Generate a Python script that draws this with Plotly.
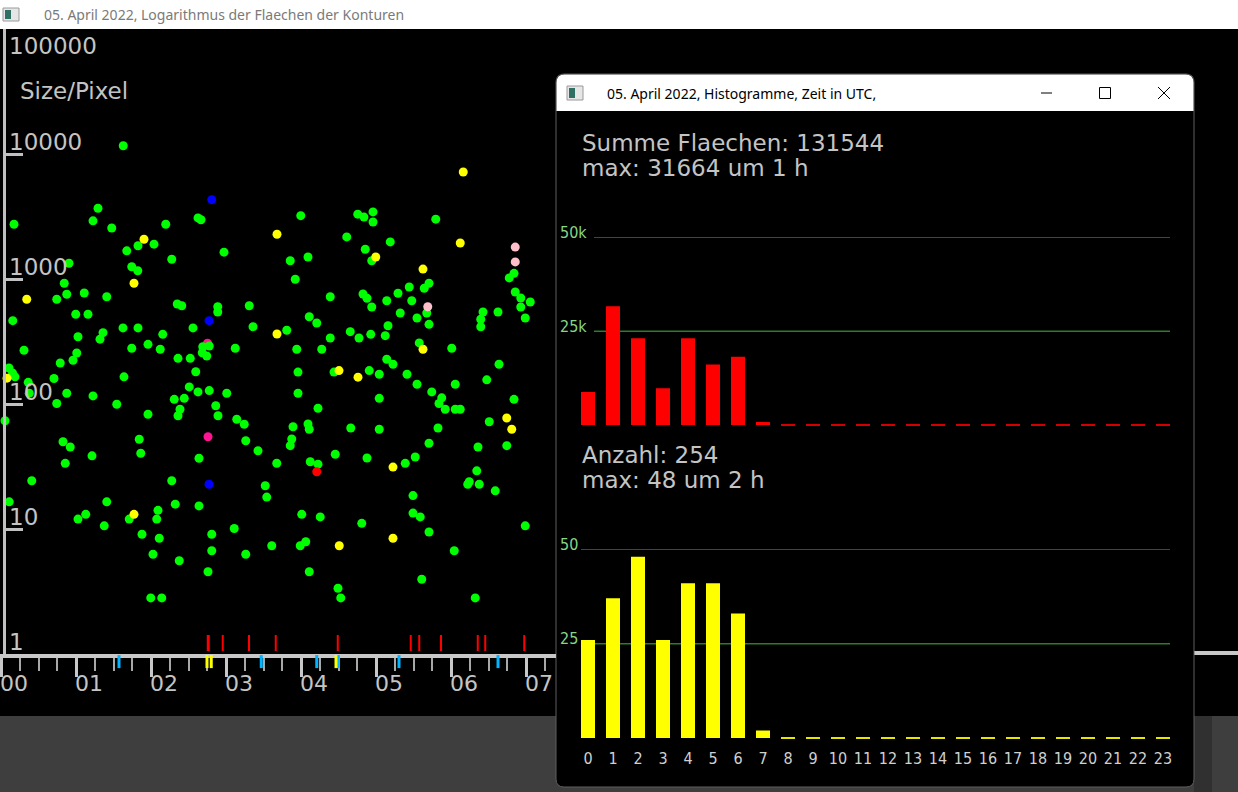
#!/usr/bin/env python3
# -*- coding: utf-8 -*-
"""
Konturen vom 05. April 2022: Flaechen (log) ueber der Uhrzeit
und die Stunden-Histogramme daneben, als Plotly-Nachbau.
"""
import math
import plotly.graph_objects as go

W, H = 1238, 792

# =============================================================================
# DATEN: Uhrzeit in Minuten nach 0 Uhr UTC, Flaeche in Pixel
# =============================================================================
gruen_min = [
    97.8, 77.6, 10.4, 73.6, 88.6, 131.8, 157.6, 160, 122.4, 109.6, 100.6, 178.4,
    136.6, 54.4, 104.6, 109.4, 50.6, 52.6, 44.6, 66.6, 84.6, 141, 144.6, 173.4,
    173.4, 198.6, 9.4, 59.8, 69.6, 201.6, 97.6, 109.6, 153.6, 129.4, 81.6, 79.2,
    61.6, 18.4, 117.6, 104.6, 127.4, 161.4, 166.6, 161, 164.6, 187.4, 60.6, 57.6,
    47.4, 141.6, 151.4, 155.8, 6.4, 9.2, 11.2, 42.4, 98.4, 21.8, 22.6, 52.6,
    44.6, 73.6, 92.6, 3.2, 117.6, 138.6, 146.6, 150.6, 157.6, 166.6, 180.6, 143.2,
    141.6, 171.8, 173.6, 188.6, 194.6, 195.8, 205.6, 220.6, 110.6, 49.6, 55.4, 72.8,
    111.8, 51.4, 158.4, 24.6, 136.6, 211.4, 212.6, 6.6, 84.6, 139.4, 158.4, 102.6,
    125.6, 124.6, 67.8, 61.6, 82.6, 112.8, 126.6, 168.6, 186.6, 216.6, 168.6, 195.8,
    121.6, 142.6, 165.6, 119.8, 128.6,
    239.8, 285.4, 290.4, 297.6, 297.6, 347.8, 276.6, 311.4, 291.4, 296.6, 231.4, 245.6,
    410.4, 406.6, 235.4, 342.4, 338.6, 326.6, 317.6, 263.4, 289.6, 292.8, 308.6, 328.6,
    296.6, 411.4, 415.8, 423.4, 415.8, 340.6, 319.4, 332.8, 342.4, 385.6, 397.6, 383.8,
    383.8, 419.4, 246.6, 252.6, 228.6, 309.6, 279.4, 286.4, 295.8, 307.4, 263.4, 236.6,
    256.6, 334.6, 360.6, 308.6, 313.6, 398.4, 237.6, 266.4, 294.6, 302.6, 324.8, 388.6,
    237.6, 253.6, 302.6, 332.8, 344.6, 352.6, 350.4, 355.4, 363.4, 363.4, 367.4, 410.4,
    390.6, 233.6, 245.6, 246.6, 279.8, 302.6, 349.6, 232.6, 231.4, 342.4, 381.6, 404.6,
    267.4, 292.8, 247.4, 253.6, 323.4, 331.4, 380.6, 374.6, 373.4, 382.6, 395.4, 329.6,
    240.6, 255.4, 288.6, 329.6, 335.4, 342.4, 419.4, 243.8, 239.4, 362.6, 246.6, 336.6,
    269.6, 271.8, 379.4,
]
gruen_flaeche = [
    11640, 3680, 2740, 2920, 2560, 2740, 3080, 2980, 1900, 1845, 1680, 1640,
    1440, 1336, 1253, 1164, 925, 755, 689, 773, 721, 631, 611, 600,
    545, 611, 464, 522, 522, 415, 406, 406, 406, 361, 372, 330,
    345, 269, 300, 279, 274, 287, 291, 257, 242, 279, 256, 224,
    213, 232, 232, 181, 194, 177, 165, 160, 165, 149, 122, 122,
    101, 116, 99.5, 73.5, 82.8, 109, 111, 137, 125, 128, 122, 90.7,
    80.5, 96.8, 80.5, 75.5, 68.9, 50.8, 42.3, 33.6, 52.2, 49.9, 45.3, 38.5,
    40.4, 33.5, 36.8, 24.3, 24.3, 22.2, 18.0, 16.5, 16.5, 15.8, 15.3, 12.0,
    14.1, 12.0, 13.1, 12.0, 10.6, 9.07, 8.43, 9.07, 10.1, 7.35, 6.70, 6.28,
    6.28, 5.57, 4.55, 2.81, 2.81,
    3210, 3300, 3130, 3440, 2860, 3010, 2170, 1980, 1730, 1400, 1400, 1500,
    1110, 1020, 995, 925, 843, 863, 769, 721, 759, 701, 670, 670,
    597, 787, 705, 655, 597, 535, 535, 488, 434, 545, 545, 476,
    415, 488, 499, 445, 389, 423, 379, 337, 361, 352, 337, 274,
    274, 308, 279, 228, 208, 208, 180, 180, 185, 173, 173, 156,
    122, 92.5, 111, 144, 125, 112, 101, 90.7, 144, 90.7, 90.7, 109,
    72.1, 65.8, 69.2, 62.8, 64.3, 62.8, 64.3, 52.5, 46.4, 48.5, 45.3, 46.4,
    39.6, 37.0, 34.5, 33.0, 33.5, 37.7, 29.2, 23.9, 22.8, 22.8, 20.2, 18.5,
    13.1, 12.5, 11.1, 13.4, 12.5, 9.46, 10.6, 7.91, 7.35, 6.70, 4.55, 3.96,
    3.36, 2.81, 2.81,
]
gelb_min = [114.4, 220.8, 106.4, 20.6, 220.8, 4.8, 106.4, 369.8, 367.4, 299.8,
            337.6, 337.6, 270.4, 285.6, 404.6, 408.6, 313.6, 270.6, 313.6]
gelb_flaeche = [2080, 2280, 925, 689, 363, 161, 13.1, 7180, 1940, 1500,
                1200, 274, 185, 164, 77.3, 62.8, 31.3, 7.35, 8.43]
blau_min = [168.6, 166.4, 166.4]
blau_flaeche = [4310, 464, 22.8]
rosa_min = [411.4, 411.4, 341.4]
rosa_flaeche = [1800, 1370, 600]
magenta_min = [165.2, 165.6]
magenta_flaeche = [306, 54.7]
rot_min = [252.6]
rot_flaeche = [28.7]

# Striche an der Zeitachse (Minuten)
rote_striche = [165.4, 166.2, 177.4, 198.4, 219.8, 269.4, 327.8, 334.6, 352.0,
                381.4, 387.4, 418.6]
cyan_striche = [94.4, 208.2, 252.6, 269.8, 318.4, 397.6]
gelbe_striche = [164.8, 168.2, 268.0]

# Achsen des Streudiagramms
x_ticks = [0, 60, 120, 180, 240, 300, 360, 420]
x_labels = ["00", "01", "02", "03", "04", "05", "06", "07"]
y_ticks = [1, 10, 100, 1000, 10000]
y_labels = ["1", "10", "100", "1000", "10000"]

# Histogramme pro Stunde
stunden = list(range(24))
flaechen_pro_stunde = [8800, 31664, 23100, 9800, 23100, 16100, 18200, 780,
                       0, 0, 0, 0, 0, 0, 0, 0, 0, 0, 0, 0, 0, 0, 0, 0]
anzahl_pro_stunde = [26, 37, 48, 26, 41, 41, 33, 2,
                     0, 0, 0, 0, 0, 0, 0, 0, 0, 0, 0, 0, 0, 0, 0, 0]
gitter_flaeche = [25000, 50000]
gitter_flaeche_text = ["25k", "50k"]
gitter_anzahl = [25, 50]
gitter_anzahl_text = ["25", "50"]

# =============================================================================
# HILFSFUNKTIONEN (Bildschirmpixel -> paper)
# =============================================================================
def fx(x):
    return x / W

def fy(y):
    return 1 - y / H

def rund_rect(x0, y0, x1, y1, r, unten=True):
    """SVG-Pfad fuer ein Fenster mit runden Ecken (oben, optional unten)."""
    p = f"M{fx(x0 + r)},{fy(y0)} L{fx(x1 - r)},{fy(y0)} Q{fx(x1)},{fy(y0)} {fx(x1)},{fy(y0 + r)} "
    if unten:
        p += f"L{fx(x1)},{fy(y1 - r)} Q{fx(x1)},{fy(y1)} {fx(x1 - r)},{fy(y1)} "
        p += f"L{fx(x0 + r)},{fy(y1)} Q{fx(x0)},{fy(y1)} {fx(x0)},{fy(y1 - r)} "
    else:
        p += f"L{fx(x1)},{fy(y1)} L{fx(x0)},{fy(y1)} "
    p += f"L{fx(x0)},{fy(y0 + r)} Q{fx(x0)},{fy(y0)} {fx(x0 + r)},{fy(y0)} Z"
    return p

def rect(x0, y0, x1, y1, fill, line=None, lw=0):
    return dict(type="rect", xref="paper", yref="paper", layer="below",
                x0=fx(x0), x1=fx(x1), y0=fy(y1), y1=fy(y0), fillcolor=fill,
                line=dict(width=lw, color=line or fill))

def linie(x0, y0, x1, y1, color, lw=1):
    return dict(type="line", xref="paper", yref="paper", layer="below",
                x0=fx(x0), x1=fx(x1), y0=fy(y0), y1=fy(y1),
                line=dict(width=lw, color=color))

CV_FONT = "DejaVu Sans"
CV_SCHMAL = "DejaVu Sans Condensed, DejaVu Sans"
GRAU = "#c4c4c4"

# =============================================================================
# FIGUR
# =============================================================================
fig = go.Figure()

# --- Streudiagramm ---
punkte = [
    (magenta_min, magenta_flaeche, "#ff1493", "magenta"),
    (gruen_min, gruen_flaeche, "#00ff00", "gruen"),
    (gelb_min, gelb_flaeche, "#ffff00", "gelb"),
    (blau_min, blau_flaeche, "#0000ff", "blau"),
    (rosa_min, rosa_flaeche, "#ffc0cb", "rosa"),
    (rot_min, rot_flaeche, "#ff0000", "rot"),
]
for xs, ys, col, name in punkte:
    fig.add_trace(go.Scatter(
        x=xs, y=ys, mode="markers", name=name, xaxis="x", yaxis="y",
        marker=dict(size=9, color=col, symbol="circle", line=dict(width=0)),
        hovertemplate="%{x:.0f} min<br>%{y} Pixel<extra></extra>"
    ))

# Strichleiste an der Zeitachse: eigene Hilfs-y-Achse (0..1) ueber px 632..672
for xs, col, lvl, size, lw in [
    (rote_striche, "#ff0000", 0.725, 11.4, 2),
    (cyan_striche, "#00b4ff", 0.26, 9.3, 3),
    (gelbe_striche, "#ffff00", 0.26, 9.3, 3),
]:
    fig.add_trace(go.Scatter(
        x=xs, y=[lvl] * len(xs), mode="markers", xaxis="x", yaxis="y4",
        cliponaxis=False, hoverinfo="skip",
        marker=dict(symbol="line-ns", size=size, line=dict(width=lw, color=col))
    ))

# --- Histogramme ---
for werte, xa, ya, col, strich in [
    (flaechen_pro_stunde, "x2", "y2", "#ff0000", "#d40000"),
    (anzahl_pro_stunde, "x3", "y3", "#ffff00", "#e6e600"),
]:
    fig.add_trace(go.Bar(
        x=stunden, y=werte, width=0.56, xaxis=xa, yaxis=ya,
        marker=dict(color=col, line=dict(width=0)),
        hovertemplate="%{x} h: %{y}<extra></extra>"
    ))
    leer = [h for h, v in zip(stunden, werte) if v == 0]
    fig.add_trace(go.Scatter(
        x=leer, y=[0] * len(leer), mode="markers", xaxis=xa, yaxis=ya,
        cliponaxis=False, hoverinfo="skip",
        marker=dict(symbol="line-ew", size=10, line=dict(width=2, color=strich))
    ))

# --- Fensterrahmen, Titelleisten ---
shapes = [
    rect(0, 0, W, 29, "#ffffff"),
    rect(0, 716, W, H, "#3e3e3e"),
    rect(1194, 716, 1212, H, "#303030"),
    rect(3, 8, 19, 21, "#e6e6e6", "#9a9a9a", 1),
    rect(5, 10, 11, 19, "#2f6f64"),
    linie(1194, 653, W, 653, "#c8c8c8", 4),
    dict(type="path", xref="paper", yref="paper", layer="below",
         path=rund_rect(556, 74, 1194, 787, 8), fillcolor="#000000",
         line=dict(width=1, color="#5e5e5e")),
    dict(type="path", xref="paper", yref="paper", layer="below",
         path=rund_rect(556.5, 74.5, 1193.5, 111, 8, unten=False),
         fillcolor="#ffffff", line=dict(width=0)),
    rect(567, 86, 583, 100, "#e6e6e6", "#9a9a9a", 1),
    rect(569, 88, 575, 98, "#2f6f64"),
    linie(1041, 93, 1052, 93, "#000000", 1),
    rect(1099.5, 87.5, 1110.5, 98.5, "rgba(0,0,0,0)", "#000000", 1),
    linie(1158, 87, 1170, 99, "#000000", 1),
    linie(1158, 99, 1170, 87, "#000000", 1),
]
for v in gitter_flaeche:
    shapes.append(dict(type="line", xref="paper", yref="y2", layer="below",
                       x0=fx(594), x1=fx(1170), y0=v, y1=v,
                       line=dict(width=1.5, color="#2b7d2b")))
for v in gitter_anzahl:
    shapes.append(dict(type="line", xref="paper", yref="y3", layer="below",
                       x0=fx(581), x1=fx(1170), y0=v, y1=v,
                       line=dict(width=1.5, color="#2b7d2b")))

# --- Texte ---
def text(x, y, s, size, color, family=CV_FONT, **kw):
    return dict(x=x, y=y, xref=kw.pop("xref", "paper"), yref=kw.pop("yref", "paper"),
                text=s, showarrow=False, xanchor="left", yanchor="middle",
                font=dict(size=size, color=color, family=family), **kw)

i_max_f = flaechen_pro_stunde.index(max(flaechen_pro_stunde))
i_max_a = anzahl_pro_stunde.index(max(anzahl_pro_stunde))
annotations = [
    text(fx(42), fy(15), "05. April 2022, Logarithmus der Flaechen der Konturen",
         14, "#7a7a7a", "Noto Sans"),
    text(fx(605), fy(93), "05. April 2022, Histogramme, Zeit in UTC,",
         14, "#000000", "Noto Sans"),
    text(fx(7), fy(46), "100000", 23, GRAU),
    text(fx(18), fy(91), "Size/Pixel", 23, GRAU),
    text(fx(580), fy(143), f"Summe Flaechen: {sum(flaechen_pro_stunde)}", 23, GRAU),
    text(fx(580), fy(168), f"max: {max(flaechen_pro_stunde)} um {i_max_f} h", 23, GRAU),
    text(fx(580), fy(455), f"Anzahl: {sum(anzahl_pro_stunde)}", 23, GRAU),
    text(fx(580), fy(480), f"max: {max(anzahl_pro_stunde)} um {i_max_a} h", 23, GRAU),
]
# Beschriftung der log-Achse: ueber dem jeweiligen Strich
for v, s in zip(y_ticks, y_labels):
    annotations.append(text(fx(7), math.log10(v), s, 23, GRAU, yref="y", yshift=12.5))
for v, s in zip(gitter_flaeche, gitter_flaeche_text):
    annotations.append(text(fx(558), v, s, 16, "#86d686", CV_SCHMAL, yref="y2", yshift=5))
for v, s in zip(gitter_anzahl, gitter_anzahl_text):
    annotations.append(text(fx(558), v, s, 16, "#86d686", CV_SCHMAL, yref="y3", yshift=5))

# --- Layout ---
fig.update_layout(
    width=W, height=H, margin=dict(l=0, r=0, t=0, b=0),
    paper_bgcolor="#000000", plot_bgcolor="rgba(0,0,0,0)",
    showlegend=False, shapes=shapes, annotations=annotations,
    xaxis=dict(
        domain=[0, fx(556)], range=[-0.8, 444], anchor="y",
        tickmode="array", tickvals=x_ticks, ticktext=x_labels,
        ticks="outside", ticklen=19, tickwidth=3, tickcolor="#c8c8c8",
        showline=True, linewidth=4, linecolor="#c8c8c8",
        minor=dict(tickmode="linear", tick0=0, dtick=15, ticks="outside",
                   ticklen=13, tickwidth=2, tickcolor="#a8a8a8"),
        tickfont=dict(size=22, color=GRAU, family=CV_FONT),
        ticklabelshift=13, ticklabelstandoff=-12,
        showgrid=False, zeroline=False, fixedrange=True,
    ),
    yaxis=dict(
        type="log", range=[0, 5], domain=[fy(654), fy(29)],
        anchor="free", position=fx(3.5),
        tickmode="array", tickvals=y_ticks, showticklabels=False,
        ticks="inside", ticklen=17, tickwidth=3, tickcolor="#c0c0c0",
        showline=True, linewidth=3, linecolor="#c0c0c0",
        showgrid=False, zeroline=False, fixedrange=True,
    ),
    yaxis4=dict(domain=[fy(672), fy(632)], range=[0, 1], anchor="free", position=0,
                visible=False, fixedrange=True),
    xaxis2=dict(domain=[fx(575.5), fx(1175.5)], range=[-0.5, 23.5], anchor="y2",
                visible=False, fixedrange=True),
    yaxis2=dict(domain=[fy(425), fy(237.3)], range=[0, 50000], anchor="x2",
                visible=False, fixedrange=True),
    xaxis3=dict(domain=[fx(575.5), fx(1175.5)], range=[-0.5, 23.5], anchor="y3",
                tickmode="array", tickvals=stunden, ticktext=[str(h) for h in stunden],
                ticks="", showline=False, showgrid=False, zeroline=False,
                ticklabelstandoff=9,
                tickfont=dict(size=16, color="#d0d0d0", family=CV_SCHMAL),
                fixedrange=True),
    yaxis3=dict(domain=[fy(738), fy(549.3)], range=[0, 50], anchor="x3",
                visible=False, fixedrange=True),
)

# Seitenrand des Browsers weg, damit die Pixel zum Original passen
fig.write_html("out.html", config={"displayModeBar": False},
               post_script="document.body.style.margin='0';document.body.style.overflow='hidden';")
